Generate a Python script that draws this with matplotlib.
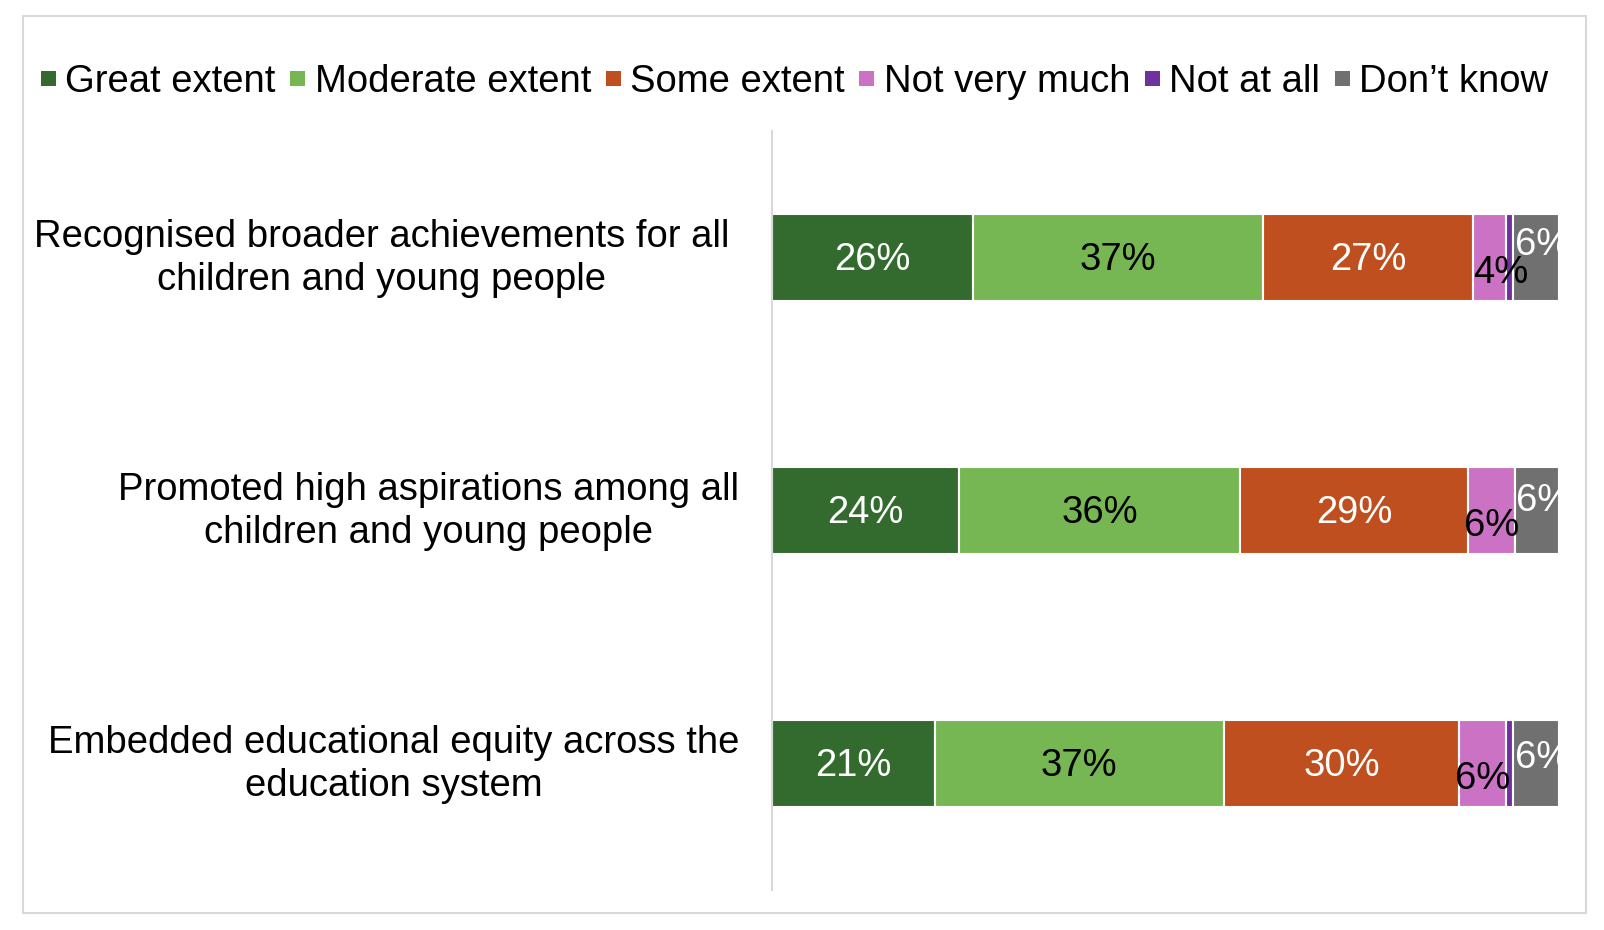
import matplotlib
matplotlib.use("Agg")
import matplotlib.pyplot as plt
from matplotlib.patches import Rectangle
from matplotlib.lines import Line2D

plt.rcParams['font.family'] = ['Liberation Sans', 'DejaVu Sans']

categories = [
    "Recognised broader achievements for all\nchildren and young people",
    "Promoted high aspirations among all\nchildren and young people",
    "Embedded educational equity across the\neducation system",
]
series_names = ["Great extent", "Moderate extent", "Some extent",
                "Not very much", "Not at all", "Don\u2019t know"]
great = [25.6, 23.7, 20.7]
moderate = [36.8, 35.8, 36.7]
some = [26.7, 28.9, 29.9]
not_very = [4.2, 6.0, 6.0]
not_at_all = [0.9, 0.0, 0.9]
dont_know = [5.8, 5.6, 5.8]

series = [great, moderate, some, not_very, not_at_all, dont_know]
colors = ["#336b2e", "#77b753", "#bf4f1f", "#cc72c4", "#7030a0", "#707070"]
label_colors = ["white", "black", "white", "black", "white", "white"]

fig = plt.figure(figsize=(16.04, 9.30), dpi=100)
ax = fig.add_axes([0.4813, 0.043, 0.4907, 0.816])

ypos = list(range(len(categories)))
left = [0.0] * len(categories)
FS = 27.5
for si, (vals, col) in enumerate(zip(series, colors)):
    ax.barh(ypos, vals, left=left, height=0.345, color=col,
            edgecolor="white", linewidth=1.5, label=series_names[si])
    for ci, v in enumerate(vals):
        if v >= 2:
            x = left[ci] + v / 2
            dx, dy, ha = 0, -2, "center"
            if si == 3:  # small pink segment
                dy = -11
                dx = 8 if v < 5 else 0
            if si == 5:  # gray segment
                x = left[ci]
                ha = "left"
                dx = 1
                dy = [9, 7, 4][ci]
            t = ax.annotate(f"{round(v)}%", (x, ci), xytext=(dx, dy),
                            textcoords="offset points", ha=ha, va="center",
                            fontsize=FS, color=label_colors[si],
                            annotation_clip=False)
            t.set_clip_on(True)
            t.set_clip_path(ax.patch)
    left = [l + v for l, v in zip(left, vals)]

ax.set_xlim(0, 100)
ax.set_ylim(2.5, -0.5)
ax.set_xticks([])
ax.set_yticks([])
for s in ["top", "right", "bottom"]:
    ax.spines[s].set_visible(False)
ax.spines["left"].set_color("#d9d9d9")
ax.spines["left"].set_linewidth(1.5)

label_dx = [-43, -33, -33]
for ci, cat in enumerate(categories):
    ax.annotate(cat, (0, ci), xytext=(label_dx[ci], -1), textcoords="offset pixels",
                ha="right", va="center", multialignment="center",
                fontsize=FS, color="black", annotation_clip=False,
                linespacing=1.24)

handles = [Line2D([], [], marker="s", linestyle="", markersize=10.8,
                  markerfacecolor=c, markeredgecolor=c, markeredgewidth=0)
           for c in colors]
leg = fig.legend(handles, series_names, loc="center",
                 bbox_to_anchor=(0.495, 0.912), ncol=6,
                 frameon=False, fontsize=FS, handlelength=0.42,
                 handletextpad=0.24, columnspacing=0.36,
                 borderaxespad=0, borderpad=0)

fig.patches.append(Rectangle((22.5 / 1604, 1 - 913 / 930), (1586 - 22.5) / 1604,
                             (913 - 16.4) / 930, transform=fig.transFigure,
                             fill=False, edgecolor="#d9d9d9", linewidth=1.5))

fig.savefig("out.png", dpi=100)
